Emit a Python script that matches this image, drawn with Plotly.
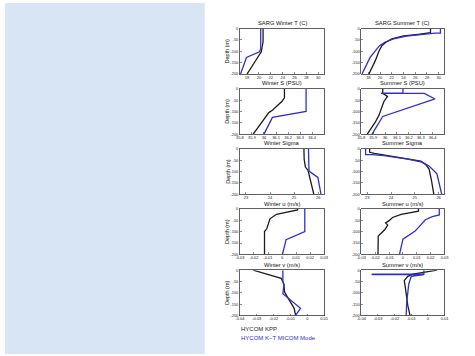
import plotly.graph_objects as go

W, H = 475, 356

# ---------------- data (depth in m) ----------------
# Winter T (C)
wT_kpp_depth = [0, -58, -102, -200]
wT_kpp = [20.7, 20.7, 20.4, 18.0]
wT_kt_depth = [0, -90, -102, -127, -200]
wT_kt = [20.3, 20.3, 20.1, 17.9, 16.9]
# Summer T (C)
sT_kpp_depth = [0, -18, -25, -32, -45, -60, -75, -100, -140, -200]
sT_kpp = [28.6, 28.6, 26.5, 24.0, 22.0, 21.0, 20.3, 19.8, 19.2, 18.1]
sT_kt_depth = [0, -20, -20, -25, -33, -45, -60, -75, -127, -200]
sT_kt = [30.3, 30.3, 29.4, 27.5, 24.5, 22.3, 20.8, 19.9, 18.3, 16.9]
# Winter S (PSU)
wS_kpp_depth = [0, -40, -55, -80, -95, -105, -140, -200]
wS_kpp = [36.17, 36.17, 36.15, 36.10, 36.07, 36.04, 35.99, 35.91]
wS_kt_depth = [0, -100, -126, -200]
wS_kt = [36.35, 36.35, 36.07, 36.00]
# Summer S (PSU)
sS_kpp_depth = [0, -20, -34, -56, -85, -115, -145, -200]
sS_kpp = [35.98, 35.98, 36.02, 35.99, 35.97, 35.95, 35.92, 35.85]
sS_kt_depth = [0, -19, -19, -20, -20, -45, -122, -200]
sS_kt = [36.15, 36.15, 35.97, 35.97, 36.33, 36.42, 35.98, 35.89]
# Winter Sigma
wSig_kpp_depth = [0, -45, -80, -94, -200]
wSig_kpp = [25.41, 25.42, 25.47, 25.58, 25.82]
wSig_kt_depth = [0, -98, -126, -200]
wSig_kt = [25.60, 25.62, 25.99, 26.12]
# Summer Sigma
sSig_kpp_depth = [0, -15, -20, -33, -43, -54, -68, -89, -139, -200]
sSig_kpp = [23.10, 23.10, 23.3, 24.0, 24.7, 25.25, 25.45, 25.6, 25.7, 25.8]
sSig_kt_depth = [0, -25, -25, -30, -45, -58, -75, -110, -200]
sSig_kt = [22.93, 22.93, 23.2, 23.7, 24.7, 25.3, 25.6, 25.93, 26.13]
# Winter u (m/s)
wU_kpp_depth = [0, -4, -23, -43, -87, -99, -200]
wU_kpp = [0.0111, 0.0111, -0.004, -0.0086, -0.0109, -0.0125, -0.0125]
wU_kt_depth = [0, -99, -135, -200]
wU_kt = [0.0162, 0.0162, 0.0029, 0.0003]
# Summer u (m/s)
sU_kpp_depth = [0, -9, -23, -37, -51, -61, -71, -90, -119, -200]
sU_kpp = [0.0112, 0.0112, -0.0013, -0.0075, -0.010, -0.0125, -0.011, -0.013, -0.0178, -0.018]
sU_kt_depth = [0, -26, -33, -47, -97, -133, -200]
sU_kt = [0.0262, 0.0262, 0.0212, 0.0162, 0.0088, 0.0, -0.0025]
# Winter v (m/s)
wV_kpp_depth = [0, -36, -60, -96, -132, -168, -200]
wV_kpp = [-0.0321, -0.0155, -0.0139, -0.0135, -0.0107, -0.0078, -0.0069]
wV_kt_depth = [0, -50, -65, -80, -104, -168, -200]
wV_kt = [-0.0145, -0.0145, -0.0139, -0.0142, -0.0145, -0.0040, -0.0071]
# Summer v (m/s)
sV_kpp_depth = [0, -7, -17, -27, -46, -75, -111, -155, -200]
sV_kpp = [0.0055, -0.0018, -0.009, -0.0121, -0.0142, -0.0136, -0.0131, -0.0121, -0.0107]
sV_kt_depth = [0, -17, -17, -19, -19, -27, -60, -96, -140, -200]
sV_kt = [-0.0024, -0.0024, -0.0334, -0.0334, -0.0024, -0.010, -0.0115, -0.0121, -0.0127, -0.0131]

titles = ["SARG Winter T (C)", "SARG Summer T (C)",
          "Winter S (PSU)", "Summer S (PSU)",
          "Winter Sigma", "Summer Sigma",
          "Winter u (m/s)", "Summer u (m/s)",
          "Winter v (m/s)", "Summer v (m/s)"]

T_ticks = [18, 20, 22, 24, 26, 28, 30]
T_ticktext = ["18", "20", "22", "24", "26", "28", "30"]
S_ticks = [35.8, 35.9, 36.0, 36.1, 36.2, 36.3, 36.4]
S_ticktext = ["35.8", "35.9", "36", "36.1", "36.2", "36.3", "36.4"]
Sig_ticks = [23, 24, 25, 26]
Sig_ticktext = ["23", "24", "25", "26"]
U_ticks = [-0.03, -0.02, -0.01, 0, 0.01, 0.02, 0.03]
U_ticktext = ["-0.03", "-0.02", "-0.01", "0", "0.01", "0.02", "0.03"]
V_ticks = [-0.04, -0.03, -0.02, -0.01, 0, 0.01]
V_ticktext = ["-0.04", "-0.03", "-0.02", "-0.01", "0", "0.01"]
depth_ticks = [0, -50, -100, -150, -200]
depth_ticktext = ["0", "-50", "-100", "-150", "-200"]

legend_labels = ["HYCOM KPP", "HYCOM K\u2212T MICOM Mode"]
KPP_COLOR = "#1c1c1c"
KT_COLOR = "#2f2fd0"

# panels: (kpp_x, kpp_depth, kt_x, kt_depth, xrange, ticks, ticktext)
panels = [
    (wT_kpp, wT_kpp_depth, wT_kt, wT_kt_depth, [16.8, 31.0], T_ticks, T_ticktext),
    (sT_kpp, sT_kpp_depth, sT_kt, sT_kt_depth, [16.8, 31.0], T_ticks, T_ticktext),
    (wS_kpp, wS_kpp_depth, wS_kt, wS_kt_depth, [35.8, 36.5], S_ticks, S_ticktext),
    (sS_kpp, sS_kpp_depth, sS_kt, sS_kt_depth, [35.8, 36.5], S_ticks, S_ticktext),
    (wSig_kpp, wSig_kpp_depth, wSig_kt, wSig_kt_depth, [22.75, 26.25], Sig_ticks, Sig_ticktext),
    (sSig_kpp, sSig_kpp_depth, sSig_kt, sSig_kt_depth, [22.75, 26.25], Sig_ticks, Sig_ticktext),
    (wU_kpp, wU_kpp_depth, wU_kt, wU_kt_depth, [-0.03, 0.03], U_ticks, U_ticktext),
    (sU_kpp, sU_kpp_depth, sU_kt, sU_kt_depth, [-0.03, 0.03], U_ticks, U_ticktext),
    (wV_kpp, wV_kpp_depth, wV_kt, wV_kt_depth, [-0.04, 0.01], V_ticks, V_ticktext),
    (sV_kpp, sV_kpp_depth, sV_kt, sV_kt_depth, [-0.04, 0.01], V_ticks, V_ticktext),
]

# ---------------- layout geometry (pixels) ----------------
col_px = [(240, 326), (364, 449)]
row_px = [(26, 72), (87, 133), (148, 194), (209, 255), (271, 317)]


def px_x(p):
    return p / W


def px_y(p):
    return 1 - p / H


fig = go.Figure()
layout = dict(
    width=W, height=H,
    margin=dict(l=0, r=0, t=0, b=0),
    paper_bgcolor="white", plot_bgcolor="white",
    showlegend=False,
    font=dict(family="Liberation Sans, Arial, sans-serif", color="#111"),
)
annotations = []
shapes = [dict(type="rect", xref="paper", yref="paper", x0=0, x1=204 / W, y0=0, y1=1,
               fillcolor="#d7e5f5", line=dict(width=0), layer="below")]

axis_common = dict(showgrid=False, zeroline=False, showline=True, mirror=True,
                   linecolor="#3a3a3a", linewidth=0.8, ticks="inside", ticklen=2,
                   tickcolor="#3a3a3a", tickwidth=0.6,
                   tickfont=dict(size=4, color="#222"))

for i, (kx, kd, tx, td, xr, xt, xtt) in enumerate(panels):
    r, c = divmod(i, 2)
    n = i + 1
    xa = "x" if n == 1 else f"x{n}"
    ya = "y" if n == 1 else f"y{n}"
    x0, x1 = col_px[c]
    top, bot = row_px[r]
    layout["xaxis" if n == 1 else f"xaxis{n}"] = dict(
        axis_common, domain=[px_x(x0), px_x(x1)], range=xr, anchor=ya,
        tickvals=xt, ticktext=xtt, ticklabelstandoff=-1)
    layout["yaxis" if n == 1 else f"yaxis{n}"] = dict(
        axis_common, domain=[px_y(bot), px_y(top)], range=[-200, 0], anchor=xa,
        tickvals=depth_ticks, ticktext=depth_ticktext)
    fig.add_trace(go.Scatter(x=kx, y=kd, mode="lines", xaxis=xa, yaxis=ya,
                             line=dict(color=KPP_COLOR, width=1.3), name=legend_labels[0]))
    fig.add_trace(go.Scatter(x=tx, y=td, mode="lines", xaxis=xa, yaxis=ya,
                             line=dict(color=KT_COLOR, width=1.3), name=legend_labels[1]))
    annotations.append(dict(text=titles[i], xref="paper", yref="paper",
                            x=px_x((x0 + x1) / 2), y=px_y(top - 5.5),
                            xanchor="center", yanchor="middle", showarrow=False,
                            borderpad=0, font=dict(size=5.8, color="#111")))
    if c == 0:
        annotations.append(dict(text="Depth (m)", xref="paper", yref="paper",
                                x=px_x(227), y=px_y((top + bot) / 2), textangle=-90,
                                xanchor="center", yanchor="middle", showarrow=False,
                                borderpad=0, font=dict(size=5.5, color="#111")))

annotations.append(dict(text=legend_labels[0], xref="paper", yref="paper",
                        x=px_x(240), y=px_y(331), xanchor="left", yanchor="middle",
                        showarrow=False, borderpad=0, font=dict(size=6, color=KPP_COLOR)))
annotations.append(dict(text=legend_labels[1], xref="paper", yref="paper",
                        x=px_x(240), y=px_y(340), xanchor="left", yanchor="middle",
                        showarrow=False, borderpad=0, font=dict(size=6, color=KT_COLOR)))

layout["annotations"] = annotations
layout["shapes"] = shapes
fig.update_layout(**layout)
fig.write_html("out.html",
               config={"displayModeBar": False, "staticPlot": True},
               post_script="document.body.style.margin='0';document.body.style.overflow='hidden';")
